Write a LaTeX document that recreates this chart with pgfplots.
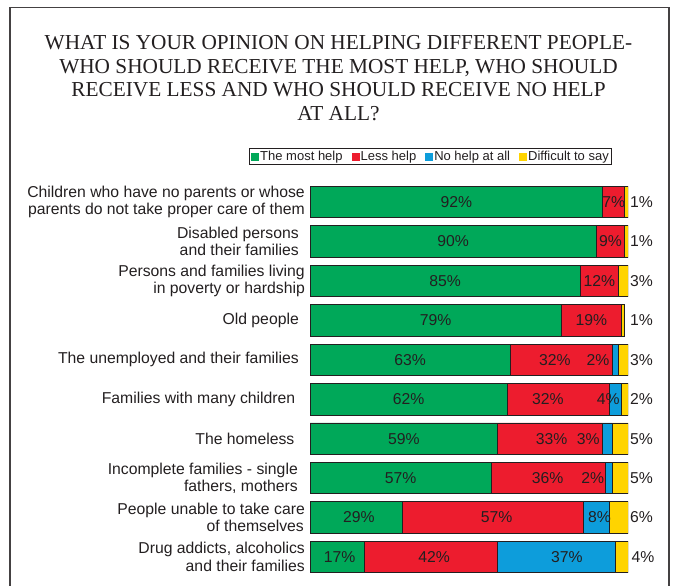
\documentclass[border=0pt]{standalone}
\usepackage{pgfplots}
\pgfplotsset{compat=1.18}
\usepackage{fontspec}
\setmainfont{Liberation Sans}
\newfontfamily\titlefont{Liberation Serif}
\definecolor{cgreen}{HTML}{00A859}
\definecolor{cred}{HTML}{ED1C2E}
\definecolor{cblue}{HTML}{0D9DDB}
\definecolor{cyellow}{HTML}{FFD400}
\definecolor{ctext}{HTML}{231F20}
\begin{document}
\begin{tikzpicture}[x=1pt,y=1pt]
\useasboundingbox (0,0) rectangle (675,586);
\draw[line width=1.1pt, ctext!85] (10,-2) -- (10,578.7) -- (669,578.7) -- (669,-2);
\begin{scope}[font=\titlefont\fontsize{21.3}{23.5}\selectfont, color=ctext]
\node[anchor=base, inner sep=0pt] at (338.5,536) {WHAT IS YOUR OPINION ON HELPING DIFFERENT PEOPLE-};
\node[anchor=base, inner sep=0pt] at (338.5,512.5) {WHO SHOULD RECEIVE THE MOST HELP, WHO SHOULD};
\node[anchor=base, inner sep=0pt] at (338.5,489) {RECEIVE LESS AND WHO SHOULD RECEIVE NO HELP};
\node[anchor=base, inner sep=0pt] at (338.5,465.5) {AT ALL?};
\end{scope}
\begin{axis}[
  at={(310pt,9.3pt)}, anchor=south west,
  scale only axis, width=318pt, height=394.4pt,
  xbar stacked, bar width=31.5pt,
  xmin=0, xmax=100, ymin=-0.5, ymax=9.5, y dir=reverse,
  axis line style={draw=none}, major tick length=0pt,
  xtick=\empty,
  ytick={0,...,9},
  yticklabels={
    {Children who have no parents or whose\\parents do not take proper care of them},
    {Disabled persons\hspace*{6pt}\\and their families\hspace*{6pt}},
    {Persons and families living\\in poverty or hardship},
    {Old people\hspace*{6pt}},
    {The unemployed and their families\hspace*{6pt}},
    {Families with many children\hspace*{9.5pt}},
    {The homeless\hspace*{10.5pt}},
    {Incomplete families - single\hspace*{7pt}\\fathers, mothers\hspace*{7pt}},
    {People unable to take care\\of themselves\hspace*{1pt}},
    {Drug addicts, alcoholics\\and their families}},
  yticklabel style={align=right, inner sep=0pt, xshift=-5pt, text=ctext,
    font=\fontsize{15.75}{17.5}\selectfont},
  every axis plot/.append style={draw=ctext, line width=0.8pt},
  legend style={at={(0.379,1.044)}, anchor=south, legend columns=4,
    draw=ctext, line width=0.6pt, inner sep=1.5pt, text=ctext,
    font=\fontsize{13}{14}\selectfont,
    nodes={inner sep=1pt},
    /tikz/every even column/.append style={column sep=8pt}},
  legend image code/.code={\fill[#1,draw=none] (0pt,-4pt) rectangle (8pt,4pt);},
]
\addplot[fill=cgreen] coordinates {(92,0) (90,1) (85,2) (79,3) (63,4) (62,5) (59,6) (57,7) (29,8) (17,9)};
\addplot[fill=cred] coordinates {(7,0) (9,1) (12,2) (19,3) (32,4) (32,5) (33,6) (36,7) (57,8) (42,9)};
\addplot[fill=cblue] coordinates {(0,0) (0,1) (0,2) (0,3) (2,4) (4,5) (3,6) (2,7) (8,8) (37,9)};
\addplot[fill=cyellow] coordinates {(1,0) (1,1) (3,2) (1,3) (3,4) (2,5) (5,6) (5,7) (6,8) (4,9)};
\legend{The most help, Less help, No help at all, Difficult to say}
\end{axis}
\begin{axis}[
  at={(310pt,9.3pt)}, anchor=south west,
  scale only axis, width=318pt, height=394.4pt,
  xmin=0, xmax=100, ymin=-0.5, ymax=9.5, y dir=reverse,
  hide axis, clip=false,
  /pgf/number format/assume math mode=true,
]
\addplot[draw=none, mark=none, nodes near coords={\pgfmathprintnumber[fixed,precision=0]{\pgfplotspointmeta}\%},
  point meta=explicit,
  every node near coord/.style={anchor=center, inner sep=0pt, text=ctext, font=\fontsize{15.75}{17.5}\selectfont}]
  table[x=x, y=y, meta=v] {
x y v
46 0 92
95.5 0 7
45 1 90
94.5 1 9
42.5 2 85
91 2 12
39.5 3 79
88.5 3 19
31.5 4 63
77 4 32
90.6 4 2
31 5 62
74.8 5 32
93.8 5 4
29.5 6 59
76 6 33
87.5 6 3
28.5 7 57
74.7 7 36
88.9 7 2
15.4 8 29
58.7 8 57
91 8 8
9.3 9 17
39 9 42
80.8 9 37
};
\addplot[draw=none, mark=none, nodes near coords={\pgfmathprintnumber[fixed,precision=0]{\pgfplotspointmeta}\%},
  point meta=explicit,
  every node near coord/.style={anchor=west, inner sep=0pt, text=ctext, font=\fontsize{15.75}{17.5}\selectfont}]
  table[x=x, y=y, meta=v] {
x y v
100.6 0 1
100.6 1 1
100.6 2 3
100.6 3 1
100.6 4 3
100.6 5 2
100.6 6 5
100.6 7 5
100.6 8 6
101.1 9 4
};
\end{axis}
\end{tikzpicture}
\end{document}
